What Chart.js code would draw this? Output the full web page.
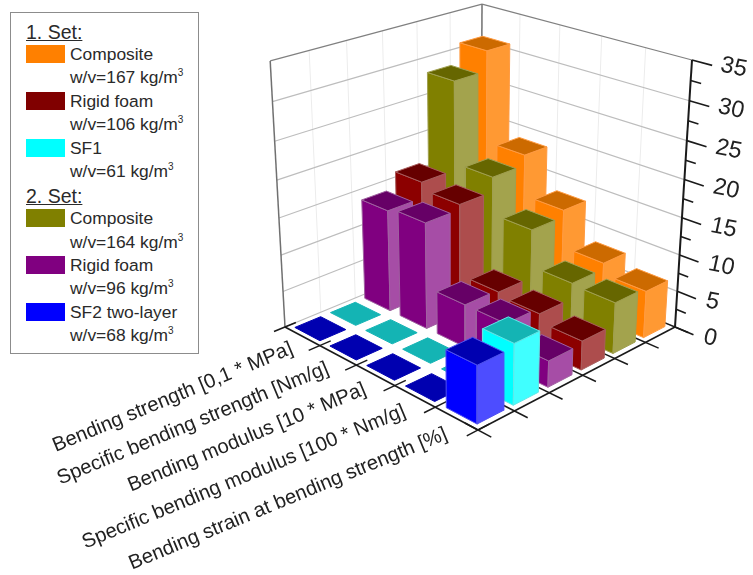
<!DOCTYPE html>
<html>
<head>
<meta charset="utf-8">
<script src="https://cdn.jsdelivr.net/npm/chart.js@4/dist/chart.umd.min.js"></script>
<style>
  body { margin: 0; background: #fff; }
  #wrap { position: relative; width: 753px; height: 575px; overflow: hidden; }
  #legend { position: absolute; left: 10px; top: 12px; width: 187px; height: 340px; border: 1.5px solid #8c8c8c;
    font-family: "Liberation Sans", Arial, sans-serif; color: #2a2a2a; background: #fff; }
  #legend div { position: absolute; white-space: nowrap; }
  #legend .head { left: 15px; font-size: 19.5px; text-decoration: underline; }
  #legend .name { left: 59px; font-size: 17.4px; }
  #legend .swatch { left: 15px; width: 39px; height: 18px; }
  #legend sup { font-size: 10px; line-height: 0; }
</style>
</head>
<body>
<div id="wrap">
  <canvas id="chart" width="753" height="575"></canvas>
  <div id="legend"></div>
</div>
<script>
var categories = ["Bending strength [0,1 * MPa]", "Specific bending strength [Nm/g]", "Bending modulus [10 * MPa]",
  "Specific bending modulus [100 * Nm/g]", "Bending strain at bending strength [%]"];
var valueTicks = [0, 5, 10, 15, 20, 25, 30, 35];

// one list per series, categories in the order above
var sf2TwoLayer = [0, 0, 0, 0, 7.5];
var sf1 = [0, 0, 0, 0, 8];
var rigidFoam2 = [14, 14.5, 5.8, 5.8, 3.5];
var rigidFoam1 = [16.2, 15.2, 5.5, 5, 3.9];
var composite2 = [28.3, 17.2, 12.1, 7.1, 6.9];
var composite1 = [31, 18.6, 13, 7.9, 6.4];

var seriesNames = ["SF2 two-layer", "SF1", "Rigid foam", "Rigid foam", "Composite", "Composite"];
var densities = ["68", "61", "96", "106", "164", "167"];

// rows, front of the floor first
var rows = [sf2TwoLayer, sf1, rigidFoam2, rigidFoam1, composite2, composite1];
var frontColors = ["#0000ff", "#00ffff", "#800080", "#8c0000", "#808000", "#ff8000"];
var sideColors = ["#4d4dff", "#40ffff", "#a64da6", "#ad4d4d", "#a3a34d", "#ff9933"];
var topColors = ["#0000b0", "#14b4b4", "#660066", "#660000", "#666600", "#cc6a00"];
var edgeColors = ["#5050f0", "#60e8e8", "#a060a0", "#a85c5c", "#a0a050", "#ff9a40"];

// the box on screen: floor corners and where the verticals meet
var cornerL = [285, 327], cornerF = [478, 430], cornerR = [675, 327], cornerB = [481, 246];
var rightTop = [692, 60], vanish = [467, 3596];
var uMax = categories.length, vMax = rows.length, zMax = 35;
var barGap = 0.14;

var dx1 = cornerF[0] - cornerR[0], dx2 = cornerB[0] - cornerR[0], sx = cornerL[0] - cornerF[0] + cornerR[0] - cornerB[0];
var dy1 = cornerF[1] - cornerR[1], dy2 = cornerB[1] - cornerR[1], sy = cornerL[1] - cornerF[1] + cornerR[1] - cornerB[1];
var den = dx1 * dy2 - dx2 * dy1;
var g = (sx * dy2 - dx2 * sy) / den, h = (dx1 * sy - sx * dy1) / den;
var a = cornerF[0] - cornerL[0] + g * cornerF[0], b = cornerB[0] - cornerL[0] + h * cornerB[0];
var d = cornerF[1] - cornerL[1] + g * cornerF[1], e = cornerB[1] - cornerL[1] + h * cornerB[1];
var lambda = (g + h + 1) * (rightTop[1] - cornerR[1]) / (vanish[1] - rightTop[1]);

function project(u, v, z) {
  var s = u / uMax, t = v / vMax, k = lambda * z / zMax;
  var w = g * s + h * t + 1 + k;
  return { x: (a * s + b * t + cornerL[0] + k * vanish[0]) / w, y: (d * s + e * t + cornerL[1] + k * vanish[1]) / w };
}

var datasets = [];
function addShape(points, fill, stroke, width) {
  datasets.push({
    data: points, showLine: true, fill: fill ? "shape" : false, backgroundColor: fill || "transparent",
    borderColor: stroke, borderWidth: width, pointRadius: 0, pointHoverRadius: 0, tension: 0, clip: false,
    borderJoinStyle: "round", order: -datasets.length
  });
}
function addLine(p, q, color, width) { addShape([p, q], null, color, width); }

// walls
var i, zv, j;
for (i = 1; i < vMax; i++) addLine(project(0, i, 0), project(0, i, zMax), "#ececec", 1);
for (i = 1; i < uMax; i++) addLine(project(i, vMax, 0), project(i, vMax, zMax), "#ececec", 1);
valueTicks.forEach(function (zv) {
  var c = zv === zMax ? "#808080" : "#bdbdbd";
  addLine(project(0, 0, zv), project(0, vMax, zv), c, 1.2);
  addLine(project(0, vMax, zv), project(uMax, vMax, zv), c, 1.2);
});
addLine(project(0, 0, 0), project(0, 0, zMax), "#707070", 1.5);
addLine(project(0, vMax, 0), project(0, vMax, zMax), "#707070", 1.5);

// floor axes with ticks
addLine(project(0, 0, 0), project(uMax, 0, 0), "#1a1a1a", 1.6);
addLine(project(uMax, 0, 0), project(uMax, vMax, 0), "#1a1a1a", 1.6);
for (i = 0; i <= uMax; i++) addLine(project(i, -0.3, 0), project(i, 0.3, 0), "#1a1a1a", 1.5);
for (i = 0; i <= vMax; i++) addLine(project(uMax - 0.3, i, 0), project(uMax + 0.3, i, 0), "#1a1a1a", 1.5);

// value axis
addLine(project(uMax, vMax, 0), project(uMax, vMax, zMax), "#1a1a1a", 2);
for (zv = 0; zv <= zMax; zv += 2.5) {
  addLine(project(uMax, vMax, zv), project(uMax + (zv % 5 === 0 ? 0.42 : 0.22), vMax, zv), "#1a1a1a", 1.6);
}

// bars, back row first so nearer ones paint over
for (j = vMax - 1; j >= 0; j--) {
  for (i = 0; i < uMax; i++) {
    var val = rows[j][i];
    var u0 = i + barGap, u1 = i + 1 - barGap, v0 = j + barGap, v1 = j + 1 - barGap;
    if (val > 0) {
      addShape([project(u0, v0, 0), project(u1, v0, 0), project(u1, v0, val), project(u0, v0, val), project(u0, v0, 0)],
        frontColors[j], edgeColors[j], 1);
      addShape([project(u1, v0, 0), project(u1, v1, 0), project(u1, v1, val), project(u1, v0, val), project(u1, v0, 0)],
        sideColors[j], edgeColors[j], 1);
    }
    addShape([project(u0, v0, val), project(u1, v0, val), project(u1, v1, val), project(u0, v1, val), project(u0, v0, val)],
      topColors[j], val > 0 ? edgeColors[j] : topColors[j], 1);
  }
}

var axisText = {
  id: "axisText",
  afterDraw: function (chart) {
    var ctx = chart.ctx;
    ctx.save();
    ctx.fillStyle = "#222";
    ctx.textBaseline = "alphabetic";
    ctx.font = '20.2px "Liberation Sans"';
    ctx.textAlign = "right";
    categories.forEach(function (label, n) {
      var p = project(n + 0.5, 0, 0);
      ctx.save();
      ctx.translate(p.x - 8, p.y + 17 + n * 0.8);
      ctx.rotate(-22.5 * Math.PI / 180);
      ctx.fillText(label, 0, 0);
      ctx.restore();
    });
    ctx.font = '23px "Liberation Sans"';
    ctx.textAlign = "left";
    ctx.textBaseline = "middle";
    valueTicks.forEach(function (tick) {
      var p = project(uMax, vMax, tick);
      ctx.save();
      ctx.translate(p.x + 29, p.y + 5 + (1 - tick / zMax) * 5);
      ctx.transform(1, 0.2, -0.22, 1, 0, 0);
      ctx.fillText(String(tick), 0, 0);
      ctx.restore();
    });
    ctx.restore();
  }
};

new Chart(document.getElementById("chart"), {
  type: "scatter",
  data: { datasets: datasets },
  options: {
    responsive: false,
    animation: false,
    layout: { padding: 0 },
    events: [],
    plugins: { legend: { display: false }, tooltip: { enabled: false } },
    scales: {
      x: { type: "linear", min: 0, max: 753, display: false },
      y: { type: "linear", min: 0, max: 575, reverse: true, display: false }
    }
  },
  plugins: [axisText]
});

// legend box
var legend = document.getElementById("legend");
var rowStep = 23.45;
function legendRow(cls, n, html) {
  var el = document.createElement("div");
  el.className = cls;
  el.style.top = (7.5 + n * rowStep) + "px";
  el.innerHTML = html;
  legend.appendChild(el);
  return el;
}
var legendOrder = [["1. Set:"], [5], [3], [1], ["2. Set:"], [4], [2], [0]];
var rowNo = 0;
legendOrder.forEach(function (item) {
  var s = item[0];
  if (typeof s === "string") {
    legendRow("head", rowNo, s);
    rowNo += 1;
    return;
  }
  var sw = legendRow("swatch", rowNo, "");
  sw.style.top = (32 + (rowNo - 1) * rowStep) + "px";
  sw.style.background = s === 3 ? "#800000" : frontColors[s];
  legendRow("name", rowNo, seriesNames[s]);
  legendRow("name", rowNo + 1, "w/v=" + densities[s] + " kg/m<sup>3</sup>");
  rowNo += 2;
});
</script>
</body>
</html>
